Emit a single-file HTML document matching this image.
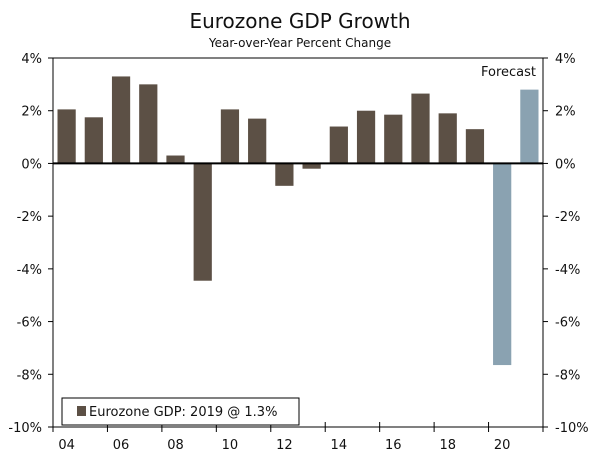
<!DOCTYPE html>
<html><head><meta charset="utf-8"><style>
body{margin:0;background:#fff;}
svg text{font-family:"DejaVu Sans","Liberation Sans",sans-serif;fill:#111;}
</style></head><body>
<svg id="chart" width="600" height="459" xmlns="http://www.w3.org/2000/svg">
<text x="300" y="28" text-anchor="middle" font-size="20">Eurozone GDP Growth</text>
<text x="300" y="47" text-anchor="middle" font-size="12">Year-over-Year Percent Change</text>
<g id="bars"></g><g id="axes"></g>
</svg>
<script>
const years=[2004,2005,2006,2007,2008,2009,2010,2011,2012,2013,2014,2015,2016,2017,2018,2019,2020,2021];
const values=[2.05,1.75,3.3,3.0,0.3,-4.45,2.05,1.7,-0.85,-0.2,1.4,2.0,1.85,2.65,1.9,1.3,-7.65,2.8];
const forecast=[false,false,false,false,false,false,false,false,false,false,false,false,false,false,false,false,true,true];
const yTicks=[4,2,0,-2,-4,-6,-8,-10];
const xLabels=["04","06","08","10","12","14","16","18","20"];
const NS="http://www.w3.org/2000/svg";
const L=53,R=543,T=58,B=427,yMin=-10,yMax=4;
const bw=(R-L)/years.length;
const y=v=>T+(yMax-v)/(yMax-yMin)*(B-T);
const x=i=>L+i*bw;
function mk(t,a,p){const e=document.createElementNS(NS,t);for(const k in a)e.setAttribute(k,a[k]);p.appendChild(e);return e;}
const gb=document.getElementById('bars'),ga=document.getElementById('axes');
values.forEach((v,i)=>{
 const r=mk('rect',{x:x(i)+4.5,y:Math.min(y(v),y(0)),width:bw-9,height:Math.abs(y(v)-y(0)),fill:forecast[i]?'#8aa2b1':'#5c5045'},gb);
 
 
});
mk('rect',{x:L,y:T,width:R-L,height:B-T,fill:'none',stroke:'#000','stroke-width':1},ga);
const z=mk('line',{x1:L,x2:R,y1:y(0),y2:y(0),stroke:'#000','stroke-width':2},ga);


yTicks.forEach(t=>{
 mk('line',{x1:L-5,x2:L,y1:y(t),y2:y(t),stroke:'#000'},ga);
 mk('line',{x1:R,x2:R+5,y1:y(t),y2:y(t),stroke:'#000'},ga);
 const a=mk('text',{x:L-11,y:y(t)+5,'text-anchor':'end','font-size':13},ga);a.textContent=t+'%';
 
 
 const b=mk('text',{x:R+12,y:y(t)+5,'text-anchor':'start','font-size':13},ga);b.textContent=t+'%';
 
 
});
for(let i=0;i<=years.length;i+=2){mk('line',{x1:x(i),x2:x(i),y1:B-5,y2:B+5,stroke:'#000'},ga);}
xLabels.forEach((s,k)=>{
 const t=mk('text',{x:x(k*2)+bw/2,y:B+22,'text-anchor':'middle','font-size':13},ga);t.textContent=s;
 
 
});
const f=mk('text',{x:R-7,y:76,'text-anchor':'end','font-size':13},ga);f.textContent='Forecast';


const lg=mk('g',{},ga);


mk('rect',{x:62,y:398,width:237,height:27,fill:'#fff',stroke:'#000'},lg);
mk('rect',{x:77,y:406,width:9,height:10,fill:'#5c5045'},lg);
const lt=mk('text',{x:89,y:416,'font-size':13},lg);lt.textContent='Eurozone GDP: 2019 @ 1.3%';


</script>
</body></html>
